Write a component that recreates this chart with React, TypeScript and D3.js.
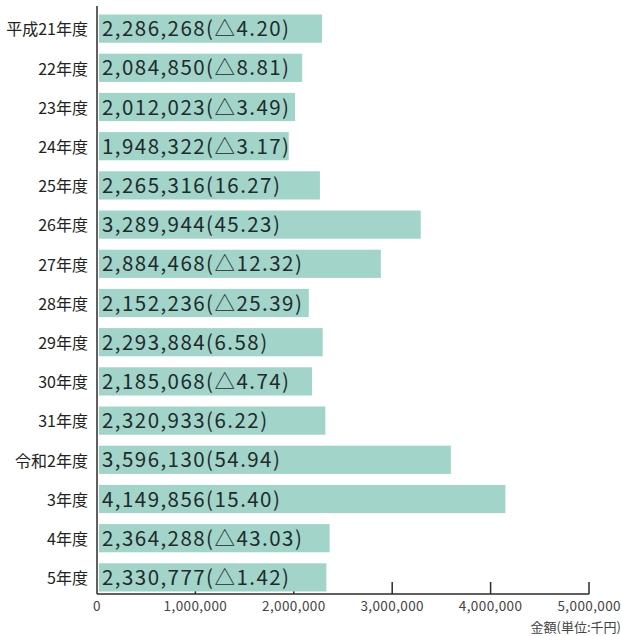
import React from "react";
import * as d3 from "d3";

const years = [
  "平成21年度", "22年度", "23年度", "24年度", "25年度", "26年度", "27年度", "28年度",
  "29年度", "30年度", "31年度", "令和2年度", "3年度", "4年度", "5年度",
];
const amounts = [
  2286268, 2084850, 2012023, 1948322, 2265316, 3289944, 2884468, 2152236,
  2293884, 2185068, 2320933, 3596130, 4149856, 2364288, 2330777,
];
const changes = [
  "△4.20", "△8.81", "△3.49", "△3.17", "16.27", "45.23", "△12.32", "△25.39",
  "6.58", "△4.74", "6.22", "54.94", "15.40", "△43.03", "△1.42",
];
const ticks = [0, 1000000, 2000000, 3000000, 4000000, 5000000];

const width = 622;
const height = 636;
const left = 97;
const axisY = 594;
const font = "'Noto Sans CJK JP', 'Noto Sans', sans-serif";

const App = () => {
  const x = d3.scaleLinear().domain([0, 5000000]).range([left, 589]);
  const y = d3.scaleBand().domain(years).range([9, 597]).paddingInner(0.28).paddingOuter(0.14);
  const fmt = d3.format(",");

  return (
    <svg width={width} height={height} style={{ position: "absolute", left: 0, top: 0, background: "#fff" }}>
      {/* tick marks sit behind the bars */}
      {ticks.slice(1).map((t) => (
        <line key={t} x1={x(t)} x2={x(t)} y1={axisY - 12} y2={axisY} stroke="#2b2b2b" strokeWidth={1.5} />
      ))}
      {years.map((yr, i) => (
        <g key={yr}>
          <rect x={left + 2} y={y(yr)} width={x(amounts[i]) - left - 2} height={y.bandwidth()} fill="#a2d4ca" />
          <text x={left + 5} y={y(yr)! + y.bandwidth() / 2} dy="0.37em" fontFamily={font} fontSize={20.5} letterSpacing={1.45} fill="#1e2b2a">
            {fmt(amounts[i])}({changes[i]})
          </text>
          <text x={left - 9} y={y(yr)! + y.bandwidth() / 2 + 1} dy="0.36em" textAnchor="end" fontFamily={font} fontSize={16} fill="#222">
            {yr}
          </text>
        </g>
      ))}
      <line x1={left} x2={left} y1={6} y2={axisY} stroke="#2b2b2b" strokeWidth={1.5} />
      <line x1={left} x2={x(5000000)} y1={axisY} y2={axisY} stroke="#2b2b2b" strokeWidth={1.5} />
      {ticks.map((t, i) => {
        const last = i === ticks.length - 1;
        return (
          <text key={t} x={last ? 621 : x(t)} y={axisY + 12} dy="0.35em" textAnchor={last ? "end" : "middle"}
            fontFamily={font} fontSize={13.5} letterSpacing={0.4} fill="#444">
            {fmt(t)}
          </text>
        );
      })}
      <text x={621} y={axisY + 33} dy="0.35em" textAnchor="end" fontFamily={font} fontSize={13} fill="#444">
        金額(単位:千円)
      </text>
    </svg>
  );
};

export default App;
